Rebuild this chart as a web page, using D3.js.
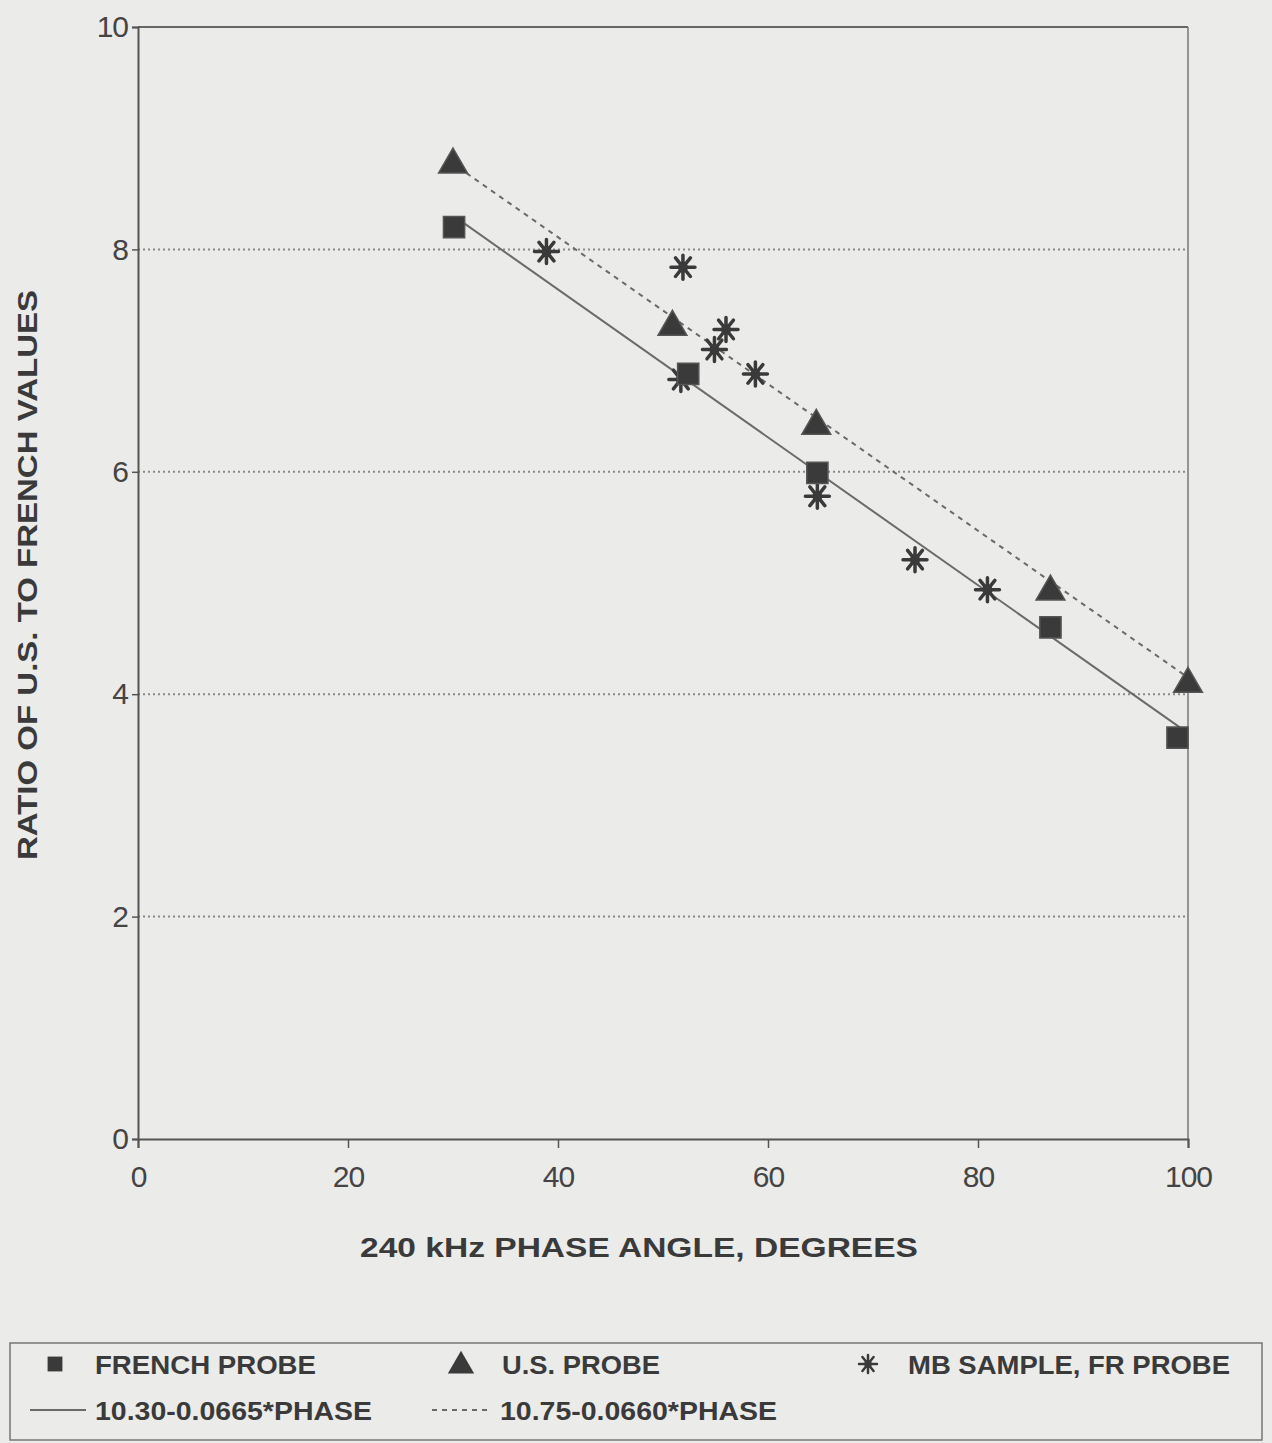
<!DOCTYPE html>
<html lang="en">
<head>
  <meta charset="UTF-8">
  <title>Ratio of U.S. to French values vs 240 kHz phase angle</title>
  <script src="https://d3js.org/d3.v7.min.js"></script>
  <style>
    body {
      margin: 0;
      background: #ebebea;
      font-family: "Liberation Sans", Arial, sans-serif;
    }
    svg { display: block; }
    .tick-label { font-size: 30px; fill: #444; letter-spacing: -1px; }
    .axis-title { font-size: 27px; font-weight: bold; fill: #3a3a3a; }
    .legend-text { font-size: 26px; font-weight: bold; fill: #3a3a3a; }
  </style>
</head>
<body>
  <div id="chart"></div>

  <script>
    const width = 1272, height = 1443;

    // 数据
    const frenchX = [30.1, 52.4, 64.7, 86.9, 99.0];
    const frenchY = [8.20, 6.88, 5.99, 4.60, 3.61];

    const usX = [30.0, 50.9, 64.6, 86.9, 100.0];
    const usY = [8.78, 7.32, 6.43, 4.94, 4.11];

    const mbX = [38.9, 51.9, 56.0, 54.9, 51.7, 58.8, 64.7, 74.0, 80.9];
    const mbY = [7.98, 7.84, 7.28, 7.10, 6.83, 6.88, 5.78, 5.21, 4.94];

    // 拟合线 a - b*PHASE
    const fitFrench = { a: 10.30, b: 0.0665, from: 30.5, to: 100 };
    const fitUS = { a: 10.75, b: 0.0660, from: 30.5, to: 100 };

    const xTicks = [0, 20, 40, 60, 80, 100];
    const yTicks = [0, 2, 4, 6, 8, 10];
    const gridY = [2, 4, 6, 8];

    const margin = { left: 138, right: 1188, top: 27, bottom: 1139 };

    const svg = d3.select("#chart").append("svg")
      .attr("width", width).attr("height", height);

    const x = d3.scaleLinear().domain([0, 100]).range([margin.left, margin.right]);
    const y = d3.scaleLinear().domain([0, 10]).range([margin.bottom, margin.top]);

    const ink = "#3a3a3a";
    const lineCol = "#6a6a6a";

    // 网格线
    svg.selectAll(".grid").data(gridY).join("line")
      .attr("x1", x(0)).attr("x2", x(100))
      .attr("y1", d => y(d)).attr("y2", d => y(d))
      .attr("stroke", "#8a8a8a").attr("stroke-width", 2)
      .attr("stroke-dasharray", "2,3");

    // 边框
    svg.append("line").attr("x1", x(0)).attr("x2", x(100)).attr("y1", y(10)).attr("y2", y(10))
      .attr("stroke", "#666").attr("stroke-width", 2);
    svg.append("line").attr("x1", x(100)).attr("x2", x(100)).attr("y1", y(10)).attr("y2", y(0))
      .attr("stroke", "#777").attr("stroke-width", 1.5);

    // 坐标轴
    const xAxis = d3.axisBottom(x).tickValues(xTicks).tickSize(9).tickPadding(12).tickFormat(d3.format("d"));
    const yAxis = d3.axisLeft(y).tickValues(yTicks).tickSize(6).tickPadding(4).tickFormat(d3.format("d"));

    const gx = svg.append("g").attr("transform", `translate(0,${y(0)})`).call(xAxis);
    const gy = svg.append("g").attr("transform", `translate(${x(0)},0)`).call(yAxis);

    [gx, gy].forEach(g => {
      g.select(".domain").attr("stroke", "#555").attr("stroke-width", 2);
      g.selectAll(".tick line").attr("stroke", "#555").attr("stroke-width", 1.5);
      g.selectAll(".tick text").attr("class", "tick-label").attr("fill", null)
        .style("font-family", "'Liberation Sans', Arial, sans-serif");
    });
    gx.selectAll(".tick text").attr("dy", "0.9em");

    // 坐标轴标题
    svg.append("text").attr("class", "axis-title")
      .attr("x", 639).attr("y", 1257).attr("text-anchor", "middle")
      .attr("textLength", 558).attr("lengthAdjust", "spacingAndGlyphs")
      .text("240 kHz PHASE ANGLE, DEGREES");

    svg.append("text").attr("class", "axis-title")
      .attr("transform", "translate(37,575) rotate(-90)")
      .attr("text-anchor", "middle")
      .attr("textLength", 570).attr("lengthAdjust", "spacingAndGlyphs")
      .text("RATIO OF U.S. TO FRENCH VALUES");

    // 拟合线
    const line = d3.line().x(d => x(d[0])).y(d => y(d[1]));
    function fitPts(f) { return [[f.from, f.a - f.b * f.from], [f.to, f.a - f.b * f.to]]; }

    svg.append("path").attr("d", line(fitPts(fitFrench)))
      .attr("stroke", lineCol).attr("stroke-width", 2).attr("fill", "none");
    svg.append("path").attr("d", line(fitPts(fitUS)))
      .attr("stroke", lineCol).attr("stroke-width", 2).attr("fill", "none")
      .attr("stroke-dasharray", "5,5");

    // 标记
    const sq = d3.symbol().type(d3.symbolSquare).size(450);
    const tri = d3.symbol().type(d3.symbolTriangle).size(360);

    function star(r) {
      const a = r * 0.62;
      return `M0,${-r}L0,${r}M${-a},${-a * 1.25}L${a},${a * 1.25}M${-a},${a * 1.25}L${a},${-a * 1.25}M${-r},0L${r},0`;
    }

    function drawStar(g, cx, cy, r, sw) {
      g.append("path").attr("d", star(r))
        .attr("transform", `translate(${cx},${cy})`)
        .attr("stroke", ink).attr("stroke-width", sw).attr("fill", "none")
        .attr("stroke-linecap", "round");
      g.append("circle").attr("cx", cx).attr("cy", cy).attr("r", r * 0.42).attr("fill", ink);
    }

    const mbG = svg.append("g");
    mbX.forEach((v, i) => drawStar(mbG, x(v), y(mbY[i]), 12, 3.5));

    svg.append("g").selectAll("path").data(frenchX).join("path")
      .attr("d", sq)
      .attr("transform", (d, i) => `translate(${x(d)},${y(frenchY[i])})`)
      .attr("fill", ink).attr("stroke", "#555").attr("stroke-width", 1.5);

    svg.append("g").selectAll("path").data(usX).join("path")
      .attr("d", tri)
      .attr("transform", (d, i) => `translate(${x(d)},${y(usY[i]) + 2})`)
      .attr("fill", ink).attr("stroke", "#555").attr("stroke-width", 1.5);

    // 图例
    const lg = svg.append("g");
    lg.append("rect").attr("x", 10).attr("y", 1343).attr("width", 1252).attr("height", 97)
      .attr("fill", "none").attr("stroke", "#777").attr("stroke-width", 1.5);

    lg.append("path").attr("d", d3.symbol().type(d3.symbolSquare).size(220))
      .attr("transform", "translate(55,1364)").attr("fill", ink);
    lg.append("text").attr("class", "legend-text").attr("x", 95).attr("y", 1374)
      .attr("textLength", 221).attr("lengthAdjust", "spacingAndGlyphs").text("FRENCH PROBE");

    lg.append("path").attr("d", d3.symbol().type(d3.symbolTriangle).size(300))
      .attr("transform", "translate(461,1366)").attr("fill", ink);
    lg.append("text").attr("class", "legend-text").attr("x", 502).attr("y", 1374)
      .attr("textLength", 158).attr("lengthAdjust", "spacingAndGlyphs").text("U.S. PROBE");

    drawStar(lg, 868, 1364, 9, 2.5);
    lg.append("text").attr("class", "legend-text").attr("x", 908).attr("y", 1374)
      .attr("textLength", 322).attr("lengthAdjust", "spacingAndGlyphs").text("MB SAMPLE, FR PROBE");

    lg.append("line").attr("x1", 30).attr("x2", 86).attr("y1", 1410).attr("y2", 1410)
      .attr("stroke", lineCol).attr("stroke-width", 2);
    lg.append("text").attr("class", "legend-text").attr("x", 95).attr("y", 1420)
      .attr("textLength", 277).attr("lengthAdjust", "spacingAndGlyphs").text("10.30-0.0665*PHASE");

    lg.append("line").attr("x1", 432).attr("x2", 490).attr("y1", 1410).attr("y2", 1410)
      .attr("stroke", lineCol).attr("stroke-width", 2).attr("stroke-dasharray", "5,5");
    lg.append("text").attr("class", "legend-text").attr("x", 500).attr("y", 1420)
      .attr("textLength", 277).attr("lengthAdjust", "spacingAndGlyphs").text("10.75-0.0660*PHASE");
  </script>
</body>
</html>
